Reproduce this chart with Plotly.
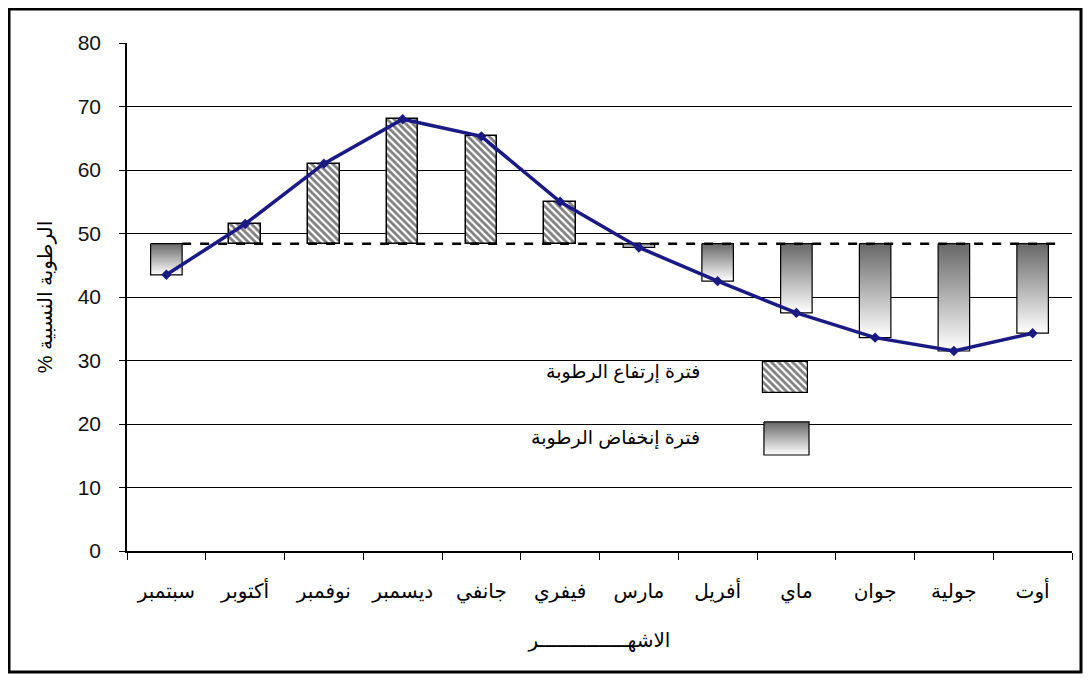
import plotly.graph_objects as go

# ---- data ----
months = ["سبتمبر", "أكتوبر", "نوفمبر", "ديسمبر", "جانفي", "فيفري",
          "مارس", "أفريل", "ماي", "جوان", "جولية", "أوت"]
humidity = [43.5, 51.5, 61.0, 68.0, 65.3, 55.0, 47.8, 42.5, 37.5, 33.6, 31.5, 34.3]
mean_humidity = 48.4
y_ticks = [0, 10, 20, 30, 40, 50, 60, 70, 80]

label_high = "فترة إرتفاع الرطوبة"
label_low = "فترة إنخفاض الرطوبة"
x_title = "الاشهـــــــــــــــر"
y_title = "% الرطوبة النسبية"

FONT = "Arial, Liberation Sans, DejaVu Sans, sans-serif"
BAR_W = 0.4
HATCH = dict(shape="\\", fgcolor="black", bgcolor="white", size=5, solidity=0.55)
GRAD = [[0, "#ffffff"], [1, "#676767"]]

idx = list(range(len(months)))
fig = go.Figure()

# positive deviations (hatched)
pos = [i for i in idx if humidity[i] >= mean_humidity]
fig.add_trace(go.Bar(
    x=pos, y=[humidity[i] - mean_humidity for i in pos], base=mean_humidity,
    width=BAR_W, marker=dict(color="white", pattern=HATCH,
                             line=dict(color="black", width=1.5)),
    showlegend=False, hoverinfo="skip"))

# negative deviations (gradient)
for i in idx:
    v = humidity[i]
    if v < mean_humidity:
        fig.add_trace(go.Scatter(
            x=[i - BAR_W / 2, i + BAR_W / 2, i + BAR_W / 2, i - BAR_W / 2, i - BAR_W / 2],
            y=[mean_humidity, mean_humidity, v, v, mean_humidity],
            mode="lines", fill="toself",
            fillgradient=dict(type="vertical", colorscale=GRAD, start=v, stop=mean_humidity),
            line=dict(color="black", width=1.2),
            showlegend=False, hoverinfo="skip"))

# mean dashed line
fig.add_trace(go.Scatter(
    x=[0.2, 11.38], y=[mean_humidity, mean_humidity], mode="lines",
    line=dict(color="black", width=2.5, dash="dash"),
    showlegend=False, hoverinfo="skip"))

# humidity line
fig.add_trace(go.Scatter(
    x=idx, y=humidity, mode="lines+markers",
    line=dict(color="#1a1a85", width=3.5),
    marker=dict(symbol="diamond", size=8, color="#1a1a85"),
    showlegend=False))

# ---- custom legend swatches on overlay axes (paper-like 0..1) ----
fig.add_trace(go.Bar(
    x=[0.6965], y=[0.061], base=0.311, width=0.048,
    marker=dict(color="white", pattern=HATCH, line=dict(color="black", width=1.2)),
    xaxis="x2", yaxis="y2", showlegend=False, hoverinfo="skip"))
gx0, gx1, gy0, gy1 = 0.674, 0.7217, 0.189, 0.254
fig.add_trace(go.Scatter(
    x=[gx0, gx1, gx1, gx0, gx0], y=[gy1, gy1, gy0, gy0, gy1],
    mode="lines", fill="toself",
    fillgradient=dict(type="vertical", colorscale=GRAD, start=gy0, stop=gy1),
    line=dict(color="black", width=1.2),
    xaxis="x2", yaxis="y2", showlegend=False, hoverinfo="skip"))

fig.add_annotation(text=label_high, xref="paper", yref="paper", x=0.608, y=0.352,
                   xanchor="right", yanchor="middle", showarrow=False,
                   font=dict(family=FONT, size=19, color="black"))
fig.add_annotation(text=label_low, xref="paper", yref="paper", x=0.608, y=0.222,
                   xanchor="right", yanchor="middle", showarrow=False,
                   font=dict(family=FONT, size=19, color="black"))

# outer border
fig.add_shape(type="rect", xref="paper", yref="paper",
              x0=(9 - 127) / 945, x1=(1081 - 127) / 945,
              y0=(551 - 672) / 508, y1=(551 - 9) / 508,
              line=dict(color="black", width=3), fillcolor="rgba(0,0,0,0)", layer="above")

# page has an 8px body margin: figure is 1075x666 placed at (8, 8)
fig.update_layout(
    width=1075, height=666,
    margin=dict(l=119, r=11, t=35, b=123),
    paper_bgcolor="white", plot_bgcolor="white",
    font=dict(family=FONT, color="black"),
    bargap=0, barmode="overlay",
    xaxis=dict(
        range=[-0.5, 11.5], tickvals=idx, ticktext=months, ticks="",
        tickfont=dict(size=20, family=FONT, color="black"),
        ticklabelstandoff=21,
        showgrid=False, zeroline=False, showline=True, linecolor="black", linewidth=1.5,
        minor=dict(tick0=-0.5, dtick=1, ticks="outside", ticklen=7,
                   tickcolor="black", tickwidth=1, showgrid=False),
        title=dict(text=x_title, font=dict(size=20, family=FONT), standoff=30),
    ),
    yaxis=dict(
        range=[0, 80], tickvals=y_ticks, ticks="outside", ticklen=6,
        tickcolor="black", tickwidth=1,
        tickfont=dict(size=21, family=FONT, color="#111"),
        ticklabelstandoff=14,
        showgrid=True, gridcolor="black", gridwidth=1,
        zeroline=False, showline=True, linecolor="black", linewidth=1.5,
        title=dict(text=y_title, font=dict(size=20, family=FONT), standoff=20),
    ),
    xaxis2=dict(range=[0, 1], overlaying="x", visible=False, fixedrange=True),
    yaxis2=dict(range=[0, 1], overlaying="y", visible=False, fixedrange=True),
)

fig.write_html("out.html")
